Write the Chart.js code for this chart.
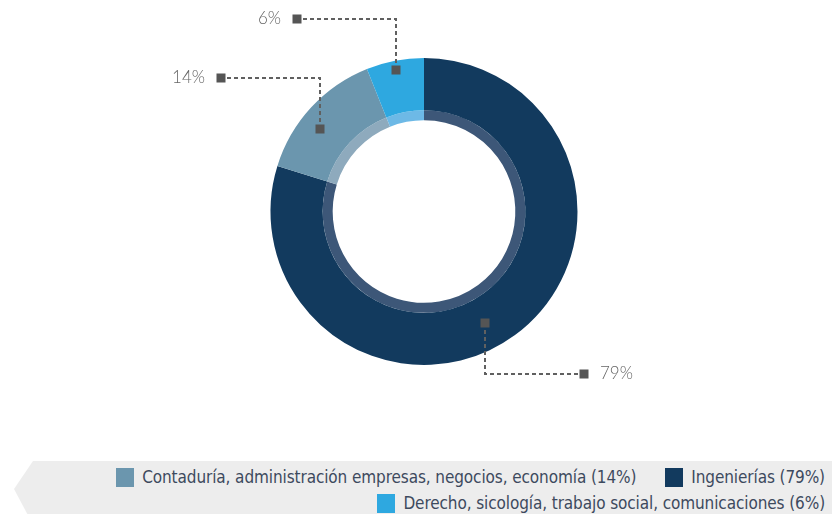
<!DOCTYPE html>
<html><head><meta charset="utf-8">
<script src="https://cdn.jsdelivr.net/npm/chart.js@4"></script>
<style>
html,body{margin:0;padding:0;background:#fff;}
#wrap{position:relative;width:832px;height:514px;overflow:hidden;}
#c{position:absolute;left:0;top:0;}
#legend{position:absolute;left:0;top:461px;width:832px;height:60px;background:#ededed;
  clip-path:polygon(33px 0,100% 0,100% 100%,31px 100%,14px 28px);box-sizing:border-box;
  padding:3px 7px 0 40px;display:flex;flex-wrap:wrap;justify-content:flex-end;column-gap:29px;align-content:flex-start;}
.item{display:flex;align-items:center;height:26px;font-family:"DejaVu Sans Condensed","Liberation Sans Narrow",sans-serif;font-size:17px;color:#3d4a5e;white-space:nowrap;letter-spacing:-0.1px;}
.sw{width:18px;height:19px;margin-right:8px;flex:none;}
</style></head><body>
<div id="wrap"><canvas id="c" width="832" height="514"></canvas><div id="legend"></div></div>
<script>
const categories = ['Ingenierías', 'Contaduría, administración empresas, negocios, economía', 'Derecho, sicología, trabajo social, comunicaciones'];
const values = [79, 14, 6];
const outerColors = ['#123a5e', '#6b96ae', '#2ea8e0'];
const innerColors = ['#3d5778', '#8eaabd', '#6db9e6'];
const legendOrder = [1, 0, 2];

const leaderPlugin = {
  id: 'leaders',
  afterDatasetsDraw(chart, args, opts) {
    const ctx = chart.ctx;
    const meta = chart.getDatasetMeta(0);
    meta.data.forEach((arc, i) => {
      const p = arc.getProps(['x','y','startAngle','endAngle','innerRadius','outerRadius'], true);
      const a = opts.anchors[i];
      const ang = p.startAngle + (p.endAngle - p.startAngle) * a.t;
      const r = p.innerRadius + (p.outerRadius - p.innerRadius) * a.r;
      const mx = Math.round(p.x + r * Math.cos(ang));
      const my = Math.round(p.y + r * Math.sin(ang));
      const up = my < p.y, left = mx < p.x;
      const ey = my + (up ? -opts.rise : opts.rise);
      const ex = mx + (left ? -opts.run : opts.run);
      ctx.save();
      ctx.strokeStyle = opts.lineColor;
      ctx.lineWidth = 2;
      ctx.setLineDash([4, 3]);
      ctx.beginPath();
      ctx.moveTo(mx, my);
      ctx.lineTo(mx, ey);
      ctx.lineTo(ex, ey);
      ctx.stroke();
      ctx.setLineDash([]);
      ctx.fillStyle = opts.markerColor;
      const s = opts.marker;
      ctx.fillRect(mx - s/2, my - s/2, s, s);
      ctx.fillRect(ex - s/2, ey - s/2, s, s);
      ctx.font = opts.font;
      ctx.fillStyle = opts.textColor;
      ctx.textBaseline = 'middle';
      ctx.textAlign = left ? 'right' : 'left';
      ctx.fillText(values[i] + '%', ex + (left ? -opts.gap : opts.gap), ey);
      ctx.restore();
    });
  }
};

new Chart(document.getElementById('c'), {
  type: 'doughnut',
  data: {
    labels: categories,
    datasets: [
      { data: values, backgroundColor: outerColors, borderWidth: 0, weight: 52 },
      { data: values, backgroundColor: innerColors, borderWidth: 0, weight: 10 }
    ]
  },
  options: {
    responsive: false,
    animation: false,
    cutout: '59.5%',
    layout: { padding: { top: 58, bottom: 149, left: 16, right: 0 } },
    plugins: {
      legend: { display: false },
      tooltip: { enabled: false },
      leaders: {
        anchors: [{t: 0.527, r: 0.5}, {t: 0.42, r: 0.6}, {t: 0.49, r: 0.83}],
        rise: 51, run: 99, marker: 9, gap: 16,
        lineColor: '#606060', markerColor: '#555555', textColor: '#666666',
        font: '300 17px Lato, "Open Sans", sans-serif'
      }
    },
    events: []
  },
  plugins: [leaderPlugin]
});

const lg = document.getElementById('legend');
legendOrder.forEach(i => {
  const it = document.createElement('div');
  it.className = 'item';
  const sw = document.createElement('span');
  sw.className = 'sw';
  sw.style.background = outerColors[i];
  const tx = document.createElement('span');
  tx.textContent = categories[i] + ' (' + values[i] + '%)';
  it.appendChild(sw); it.appendChild(tx);
  lg.appendChild(it);
});
</script>
</body></html>
